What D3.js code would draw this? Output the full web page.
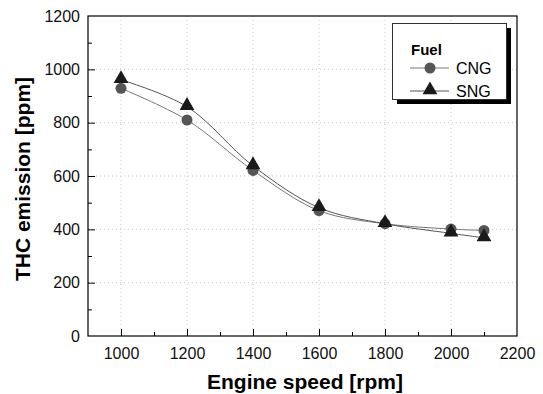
<!DOCTYPE html>
<html>
<head>
<meta charset="utf-8">
<script src="https://cdn.jsdelivr.net/npm/d3@7"></script>
<style>
  body { margin: 0; background: #fff; }
  text { font-family: "Liberation Sans", Arial, sans-serif; }
</style>
</head>
<body>
<svg id="chart" width="543" height="394"></svg>
<script>
  // data
  const speeds = [1000, 1200, 1400, 1600, 1800, 2000, 2100]
  const cng = [929, 810, 621, 470, 421, 401, 396]
  const sng = [961, 860, 638, 481, 421, 385, 368]
  const xTicks = [1000, 1200, 1400, 1600, 1800, 2000, 2200]
  const yTicks = [0, 200, 400, 600, 800, 1000, 1200]

  const svg = d3.select('#chart')
  const L = 88, R = 517, T = 16, B = 336

  const x = d3.scaleLinear().domain([900, 2200]).range([L, R])
  const y = d3.scaleLinear().domain([0, 1200]).range([B, T])

  // grid
  const grid = svg.append('g')
  grid.selectAll('.gx').data(xTicks.filter(d => d < 2200)).enter().append('line')
    .attr('x1', d => x(d)).attr('x2', d => x(d)).attr('y1', T).attr('y2', B)
    .attr('stroke', '#c8c8c8').attr('stroke-dasharray', '1,3')
  grid.selectAll('.gy').data(yTicks.filter(d => d > 0 && d < 1200)).enter().append('line')
    .attr('y1', d => y(d)).attr('y2', d => y(d)).attr('x1', L).attr('x2', R)
    .attr('stroke', '#c8c8c8').attr('stroke-dasharray', '1,3')

  // axes (ticks point inward)
  const xAxis = d3.axisBottom(x).tickValues(d3.range(900, 2201, 100)).tickSize(-6)
    .tickFormat(d => xTicks.includes(d) ? d : '')
  const gx = svg.append('g').attr('transform', `translate(0,${B})`).call(xAxis)
  gx.selectAll('.tick line').attr('y2', d => xTicks.includes(d) ? -7 : -4)
  gx.selectAll('.tick').filter(d => d === 900 || d === 2200).select('line').remove()

  const yAxis = d3.axisLeft(y).tickValues(d3.range(0, 1201, 100)).tickSize(-6)
    .tickFormat(d => yTicks.includes(d) ? d : '')
  const gy = svg.append('g').attr('transform', `translate(${L},0)`).call(yAxis)
  gy.selectAll('.tick line').attr('x2', d => yTicks.includes(d) ? 7 : 4)
  gy.selectAll('.tick').filter(d => d === 0 || d === 1200).select('line').remove()

  svg.selectAll('.domain').remove()
  svg.selectAll('.tick text').attr('font-size', 16).attr('fill', '#111')
    .attr('font-family', '"Liberation Sans", Arial, sans-serif')
  gx.selectAll('.tick text').attr('dy', '1.05em').attr('y', 6)
  gy.selectAll('.tick text').attr('x', -8)
  svg.selectAll('.tick line').attr('stroke', '#000')

  // frame
  svg.append('rect').attr('x', L).attr('y', T).attr('width', R - L).attr('height', B - T)
    .attr('fill', 'none').attr('stroke', '#000').attr('stroke-width', 1.2)

  // curves
  const line = d3.line().x((d, i) => x(speeds[i])).y(d => y(d)).curve(d3.curveCatmullRom)
  svg.append('path').attr('d', line(cng)).attr('fill', 'none').attr('stroke', '#777').attr('stroke-width', 1)
  svg.append('path').attr('d', line(sng)).attr('fill', 'none').attr('stroke', '#555').attr('stroke-width', 1)

  const tri = d3.symbol().type(d3.symbolTriangle).size(95)
  svg.selectAll('.cng').data(cng).enter().append('circle')
    .attr('cx', (d, i) => x(speeds[i])).attr('cy', d => y(d)).attr('r', 5.5).attr('fill', '#555')
  svg.selectAll('.sng').data(sng).enter().append('path')
    .attr('d', tri).attr('transform', (d, i) => `translate(${x(speeds[i])},${y(d) - 1})`)
    .attr('fill', '#1a1a1a')

  // legend
  const lg = svg.append('g')
  lg.append('rect').attr('x', 397).attr('y', 28).attr('width', 114).attr('height', 76).attr('fill', '#000')
  lg.append('rect').attr('x', 392.5).attr('y', 23.5).attr('width', 114).attr('height', 76)
    .attr('fill', '#fff').attr('stroke', '#333').attr('stroke-width', 1)
  lg.append('text').attr('x', 411).attr('y', 55).attr('font-size', 15).attr('font-weight', 'bold').text('Fuel')
  lg.append('line').attr('x1', 410).attr('x2', 449).attr('y1', 68).attr('y2', 68).attr('stroke', '#777')
  lg.append('circle').attr('cx', 430).attr('cy', 68).attr('r', 5.5).attr('fill', '#555')
  lg.append('text').attr('x', 456).attr('y', 74).attr('font-size', 16).text('CNG')
  lg.append('line').attr('x1', 410).attr('x2', 449).attr('y1', 91).attr('y2', 91).attr('stroke', '#555')
  lg.append('path').attr('d', tri).attr('transform', 'translate(430,90)').attr('fill', '#1a1a1a')
  lg.append('text').attr('x', 456).attr('y', 97).attr('font-size', 16).text('SNG')

  // axis titles
  svg.append('text').attr('x', 305).attr('y', 389).attr('text-anchor', 'middle')
    .attr('font-size', 21).attr('font-weight', 'bold').text('Engine speed [rpm]')
  svg.append('text').attr('transform', 'translate(30,179) rotate(-90)').attr('text-anchor', 'middle')
    .attr('font-size', 21).attr('font-weight', 'bold').text('THC emission [ppm]')
</script>
</body>
</html>
